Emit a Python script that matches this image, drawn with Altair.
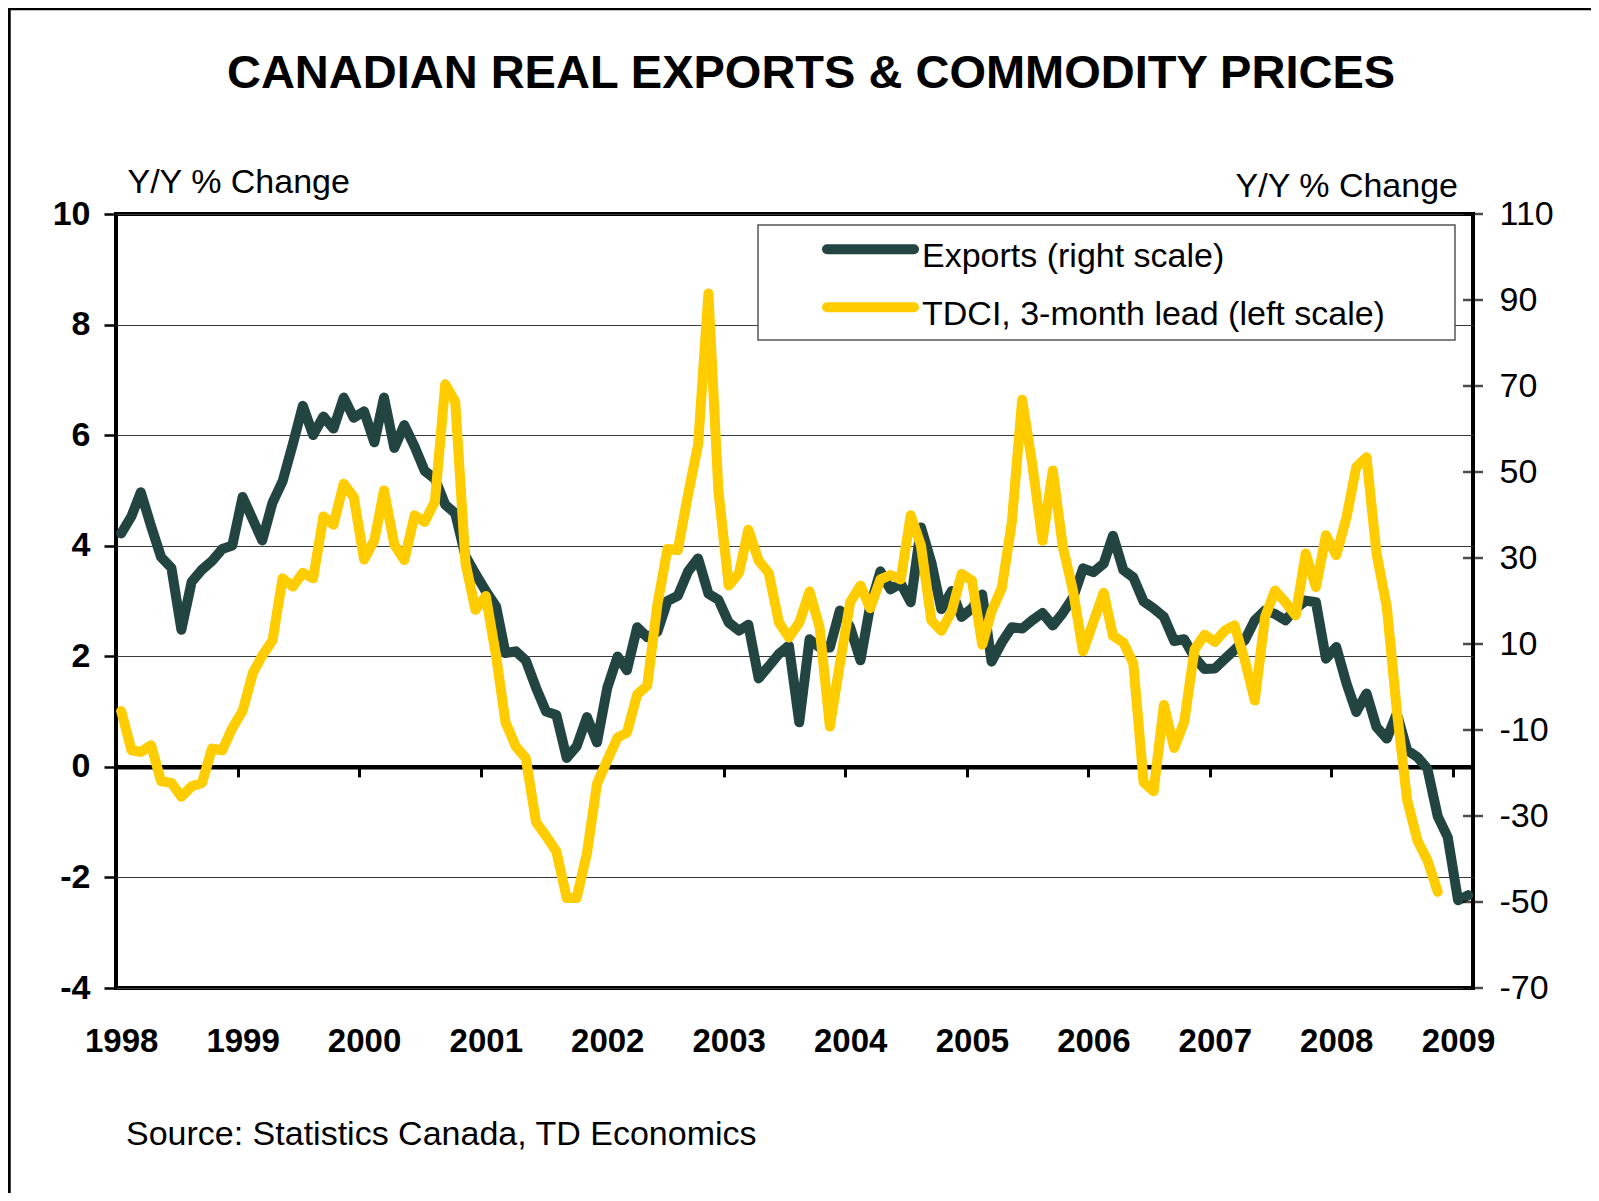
import altair as alt
import pandas as pd

# ---------------- data ----------------
months = pd.date_range("1998-01-01", periods=134, freq="MS").strftime("%Y-%m-%d").tolist()

# Exports, Y/Y % change (right scale), Jan 1998 - Feb 2009
exports_right = [
    35.7, 39.7, 45.3, 37.4, 30.2, 27.7, 13.3, 24.5, 27.3, 29.3,
    32.1, 32.9, 44.2, 38.9, 34.1, 42.9, 47.8, 56.5, 65.4, 58.6,
    62.9, 60.1, 67.3, 62.6, 64.1, 56.9, 67.3, 55.6, 60.9, 55.9,
    50.3, 48.4, 42.4, 40.4, 30.4, 26.3, 22.3, 18.7, 7.9, 8.3,
    6.2, -0.2, -5.7, -6.5, -16.5, -13.8, -7.0, -12.9, -0.2, 7.1,
    3.9, 13.9, 11.6, 12.9, 20.0, 21.2, 26.9, 29.9, 21.7, 20.3,
    15.0, 13.1, 14.5, 2.0, 4.8, 7.7, 9.6, -8.2, 11.1, 9.2,
    9.2, 17.8, 13.9, 6.2, 18.8, 26.9, 22.7, 24.1, 19.7, 37.1,
    29.0, 18.1, 22.3, 16.3, 18.3, 21.5, 5.9, 10.4, 13.9, 13.6,
    15.5, 17.2, 14.3, 17.2, 20.8, 27.6, 26.7, 28.7, 35.2, 27.2,
    25.5, 19.9, 18.3, 16.3, 10.7, 11.1, 6.9, 4.2, 4.3, 6.6,
    8.6, 10.9, 15.5, 17.8, 17.0, 15.5, 18.2, 20.1, 19.7, 6.6,
    9.3, 0.8, -5.8, -1.5, -9.3, -12.0, -6.2, -14.7, -16.3, -19.0,
    -30.1, -34.9, -49.6, -48.4,
]

# TDCI, 3-month lead, Y/Y % change (left scale), Jan 1998 - Nov 2008
tdci_left = [
    1.01, 0.30, 0.27, 0.39, -0.26, -0.29, -0.54, -0.35, -0.29, 0.33,
    0.30, 0.70, 1.01, 1.70, 2.01, 2.29, 3.41, 3.26, 3.51, 3.41,
    4.53, 4.38, 5.12, 4.88, 3.75, 4.10, 5.00, 4.02, 3.74, 4.55,
    4.43, 4.80, 6.92, 6.61, 3.68, 2.84, 3.09, 2.00, 0.81, 0.37,
    0.16, -1.00, -1.25, -1.53, -2.37, -2.37, -1.56, -0.31, 0.12, 0.53,
    0.62, 1.31, 1.47, 2.95, 3.94, 3.92, 4.93, 5.83, 8.56, 5.00,
    3.28, 3.51, 4.29, 3.73, 3.51, 2.61, 2.34, 2.61, 3.17, 2.53,
    0.73, 1.86, 2.98, 3.28, 2.87, 3.39, 3.47, 3.39, 4.55, 4.00,
    2.65, 2.46, 2.81, 3.49, 3.37, 2.21, 2.81, 3.24, 4.43, 6.64,
    5.49, 4.09, 5.36, 3.99, 3.18, 2.09, 2.62, 3.15, 2.37, 2.25,
    1.87, -0.28, -0.44, 1.12, 0.34, 0.81, 2.12, 2.39, 2.26, 2.47,
    2.56, 1.93, 1.20, 2.71, 3.19, 2.98, 2.74, 3.86, 3.25, 4.19,
    3.83, 4.52, 5.42, 5.60, 3.86, 2.89, 1.02, -0.60, -1.33, -1.69,
    -2.26,
]

left_ticks = [-4, -2, 0, 2, 4, 6, 8, 10]
right_ticks = [-70, -50, -30, -10, 10, 30, 50, 70, 90, 110]
years = list(range(1998, 2010))

title_text = "CANADIAN REAL EXPORTS & COMMODITY PRICES"
axis_title = "Y/Y % Change"
legend_labels = ["Exports (right scale)", "TDCI, 3-month lead (left scale)"]
source_text = "Source: Statistics Canada, TD Economics"

# ---------------- styling ----------------
W, H = 1357, 774
FONT = "Liberation Sans"
DARK = "#234542"
YELLOW = "#FFCC00"
ZERO_OFFSET = -(H - H * 10 / 14)  # x axis drawn at the y=0 line of the left scale

df_exp = pd.DataFrame({"month": months, "value": exports_right})
df_tdci = pd.DataFrame({"month": months[:len(tdci_left)], "value": tdci_left})
df_rt = pd.DataFrame({"v": right_ticks})

x_scale = alt.Scale(
    type="utc",
    domain=[
        alt.DateTime(year=1997, month=12, date=16, hours=12, utc=True),
        alt.DateTime(year=2009, month=2, date=15, utc=True),
    ],
)
x_axis = alt.Axis(
    values=[alt.DateTime(year=y, month=1, date=1, utc=True) for y in years],
    format="%Y",
    title=None,
    grid=False,
    offset=ZERO_OFFSET,
    domainColor="black",
    domainWidth=4.5,
    tickColor="black",
    tickWidth=3,
    tickSize=10,
    tickOffset=-5,
    labelOffset=5,
    labelFont=FONT,
    labelFontSize=33,
    labelFontWeight="bold",
    labelColor="black",
    labelBaseline="alphabetic",
    labelPadding=275,
    labelFlush=False,
    labelOverlap=False,
    labelBound=False,
)
x_enc = alt.X("month:T", scale=x_scale, axis=x_axis)

right_scale = alt.Scale(domain=[-70, 110], nice=False, zero=False)
left_scale = alt.Scale(domain=[-4, 10], nice=False, zero=False)

right_axis = alt.Axis(
    orient="right",
    values=right_ticks,
    title=None,
    grid=False,
    domain=False,
    ticks=False,
    labelPadding=26,
    labelFont=FONT,
    labelFontSize=34,
    labelColor="black",
    labelExpr="'' + datum.value",
)

dark_line = alt.Chart(df_exp).mark_line(
    color=DARK, strokeWidth=10, strokeJoin="round", strokeCap="round"
).encode(
    x=x_enc,
    y=alt.Y("value:Q", scale=right_scale, axis=right_axis),
)

right_tick_marks = alt.Chart(df_rt).mark_tick(
    orient="horizontal", size=20, thickness=2.5, color="black"
).encode(
    y=alt.Y("v:Q", scale=right_scale, axis=right_axis),
    x=alt.value(W),
)

yellow_line = alt.Chart(df_tdci).mark_line(
    color=YELLOW, strokeWidth=10, strokeJoin="round", strokeCap="round"
).encode(
    x=x_enc,
    y=alt.Y(
        "value:Q",
        scale=left_scale,
        axis=alt.Axis(
            orient="left",
            values=left_ticks,
            title=None,
            grid=True,
            gridColor="#3a3a3a",
            gridWidth=1,
            domain=False,
            ticks=True,
            tickSize=12,
            tickWidth=2.5,
            tickColor="black",
            labelPadding=14,
            labelFont=FONT,
            labelFontSize=34,
            labelFontWeight="bold",
            labelColor="black",
            labelExpr="'' + datum.value",
        ),
    ),
)

one = alt.Data(values=[{"a": 1}])


def text_layer(txt, x, y, size, align="left", weight="normal"):
    return alt.Chart(one).mark_text(
        text=txt, font=FONT, fontSize=size, fontWeight=weight, align=align,
        baseline="alphabetic", color="black"
    ).encode(x=alt.value(x), y=alt.value(y))


title = text_layer(title_text, 695, -125.7, 47, align="center", weight="bold")
left_title = text_layer(axis_title, 11.5, -21, 34)
right_title = text_layer(axis_title, 1342, -17, 34, align="right")
source = text_layer(source_text, 10, 931, 34)

legend_box = alt.Chart(one).mark_rect(fill="white", stroke="#555555", strokeWidth=1.5).encode(
    x=alt.value(642), x2=alt.value(1339), y=alt.value(11), y2=alt.value(126)
)
legend_dark = alt.Chart(one).mark_rule(color=DARK, strokeWidth=10, strokeCap="round").encode(
    x=alt.value(711), x2=alt.value(798), y=alt.value(35.3)
)
legend_yellow = alt.Chart(one).mark_rule(color=YELLOW, strokeWidth=10, strokeCap="round").encode(
    x=alt.value(711), x2=alt.value(798), y=alt.value(93.3)
)
legend_t1 = text_layer(legend_labels[0], 806, 52.7, 34)
legend_t2 = text_layer(legend_labels[1], 806, 111, 34)

frame_top = alt.Chart(one).mark_rule(color="black", strokeWidth=3.5).encode(
    x=alt.value(-109), x2=alt.value(1475), y=alt.value(-205.5)
)
frame_left = alt.Chart(one).mark_rule(color="black", strokeWidth=3.5).encode(
    x=alt.value(-107), y=alt.value(-207), y2=alt.value(979)
)

right_part = alt.layer(dark_line, right_tick_marks)
left_part = alt.layer(yellow_line)

chart = alt.layer(
    right_part,
    left_part,
    title, left_title, right_title, source,
    legend_box, legend_dark, legend_yellow, legend_t1, legend_t2,
    frame_top, frame_left,
).resolve_scale(
    y="independent"
).properties(
    width=W,
    height=H,
    autosize=alt.AutoSizeParams(type="none"),
    padding={"left": 108, "top": 206, "right": 118, "bottom": 205},
    background="white",
).configure_view(
    stroke="black", strokeWidth=4
)

chart.save("out.html", embed_options={"renderer": "svg", "actions": False})
